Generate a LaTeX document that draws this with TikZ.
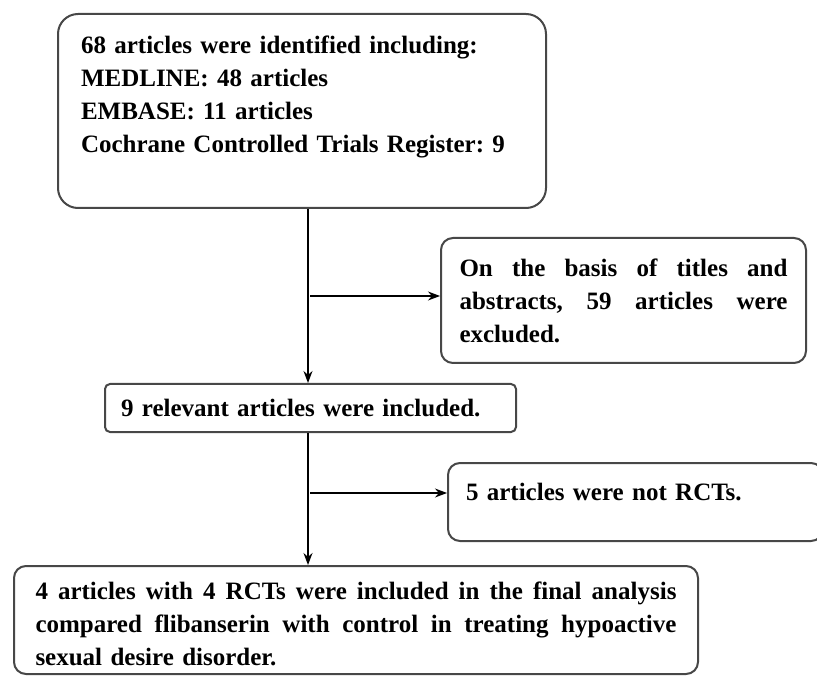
\documentclass[tikz,border=0pt]{standalone}
\usepackage{fontspec}
\setmainfont{Liberation Serif}
\usetikzlibrary{arrows.meta}

\newcommand{\jline}[2]{\makebox[#1][s]{\spaceskip=0.25em plus 1em\relax #2}}

\begin{document}
\begin{tikzpicture}[
    x=1pt, y=-1pt,
    font=\fontsize{25}{33}\selectfont\bfseries\frenchspacing,
    box/.style={draw=black!72, line width=2pt, anchor=north west, inner ysep=0pt, align=left},
    flow/.style={-{Stealth[length=12pt,width=9pt]}, line width=1.4pt}
]
    \useasboundingbox (0,0) rectangle (817,676);

    % boxes
    \node[box, rounded corners=20pt, minimum width=488pt, minimum height=194pt,
          text width=442pt, inner xsep=23pt] (ident) at (57,13)
        {68 articles were identified including:\\
         MEDLINE: 48 articles\\
         EMBASE: 11 articles\\
         Cochrane Controlled Trials Register: 9\\ \mbox{}};
    \node[box, rounded corners=12pt, minimum width=365pt, minimum height=125pt,
          text width=328pt, inner xsep=18pt] (titles) at (440,237)
        {\jline{328pt}{On the basis of titles and}\\
         \jline{328pt}{abstracts, 59 articles were}\\
         excluded.};
    \node[box, rounded corners=5pt, minimum width=411pt, minimum height=48pt,
          text width=379pt, inner xsep=16pt] (relev) at (104,383)
        {9 relevant articles were included.};
    \node[box, rounded corners=12pt, minimum width=375pt, minimum height=78pt,
          text width=339pt, inner xsep=18pt, inner ysep=15pt,
          text height=22pt, text depth=26pt] (notrct) at (447,462)
        {5 articles were not RCTs.};
    \node[box, rounded corners=12pt, minimum width=684pt, minimum height=108pt,
          text width=641pt, inner xsep=21.5pt] (final) at (13,565)
        {\rule{0pt}{26pt}\jline{641pt}{4 articles with 4 RCTs were included in the final analysis}\\
         \jline{641pt}{compared flibanserin with control in treating hypoactive}\\
         sexual desire disorder.};

    % connectors
    \coordinate (mid) at (308,0);
    \coordinate (br1) at (310,296);
    \coordinate (br2) at (310,493);
    \draw[flow] (ident.south -| mid) -- (relev.north -| mid);
    \draw[flow] (br1) -- (br1 -| titles.west);
    \draw[flow] (relev.south -| mid) -- (final.north -| mid);
    \draw[flow] (br2) -- (br2 -| notrct.west);
\end{tikzpicture}
\end{document}
